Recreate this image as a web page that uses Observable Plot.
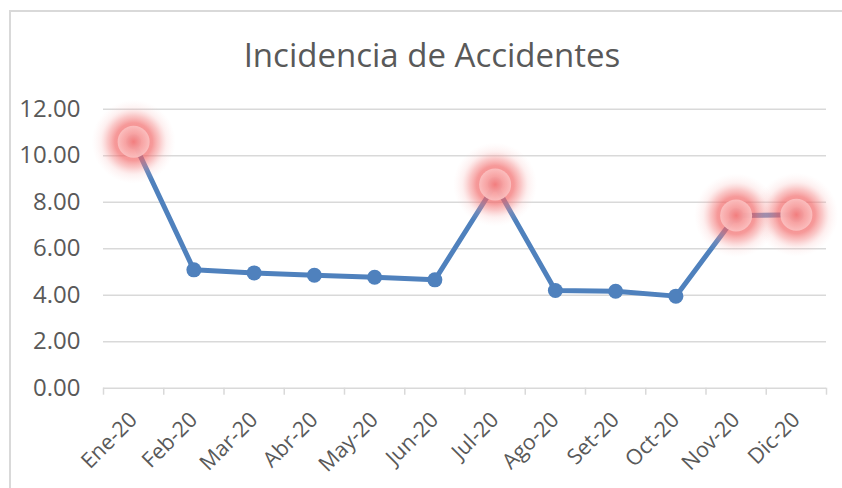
<!DOCTYPE html>
<html>
<head>
<meta charset="utf-8">
<script src="https://cdn.jsdelivr.net/npm/d3@7"></script>
<script src="https://cdn.jsdelivr.net/npm/@observablehq/plot@0.6"></script>
<style>
  html, body { margin: 0; padding: 0; background: #fff; width: 842px; height: 488px; overflow: hidden; }
  #frame { position: absolute; left: 9px; top: 10px; width: 850px; height: 500px; border: 2px solid #d9d9d9; box-sizing: border-box; }
  #title { position: absolute; left: 432px; top: 38px; transform: translateX(-50%); white-space: nowrap;
           font-family: "Open Sans", sans-serif; font-size: 33px; line-height: 1; color: #595959; }
  #chart { position: absolute; left: 0; top: 0; }
</style>
</head>
<body>
<div id="frame"></div>
<div id="title">Incidencia de Accidentes</div>
<div id="chart"></div>
<script>
const months = ["Ene-20","Feb-20","Mar-20","Abr-20","May-20","Jun-20","Jul-20","Ago-20","Set-20","Oct-20","Nov-20","Dic-20"];
const values = [10.60, 5.09, 4.96, 4.86, 4.77, 4.66, 8.76, 4.20, 4.17, 3.96, 7.43, 7.46];
const yTicks = [0, 2, 4, 6, 8, 10, 12];
const highlighted = ["Ene-20","Jul-20","Nov-20","Dic-20"];

const data = months.map((m, i) => ({month: m, value: values[i], idx: i}));
const hi = data.filter(d => highlighted.includes(d.month));
const xPos = d => d.idx + 0.5;

const svg = Plot.plot({
  width: 842,
  height: 488,
  marginLeft: 103,
  marginRight: 16,
  marginTop: 108.7,
  marginBottom: 100.3,
  style: {fontFamily: "'Open Sans', sans-serif", fontSize: "22px", background: "transparent", overflow: "visible"},
  x: {type: "linear", domain: [0, months.length], axis: null},
  y: {domain: [0, 12], axis: null},
  marks: [
    Plot.ruleY(yTicks, {stroke: "#d9d9d9", strokeWidth: 1.5}),
    Plot.axisY({ticks: yTicks, tickSize: 0, tickPadding: 23, tickFormat: d3.format(".2f"), label: null,
                fill: "#595959", fontSize: 24}),
    Plot.axisX({ticks: d3.range(months.length + 1), tickSize: 7, tickFormat: () => "", label: null,
                stroke: "#d9d9d9", strokeWidth: 1.5}),
    Plot.axisX({ticks: d3.range(months.length).map(i => i + 0.5), tickFormat: d => months[Math.floor(d)], label: null,
                tickSize: 0, tickPadding: 28, tickRotate: -45, fill: "#595959", fontSize: 21.5}),
    Plot.line(data, {x: xPos, y: "value", stroke: "#4f81bd", strokeWidth: 5}),
    Plot.dot(data, {x: xPos, y: "value", r: 7.5, fill: "#4f81bd", stroke: "none"}),
    Plot.dot(hi, {x: xPos, y: "value", r: 42, fill: "url(#glowOuter)", stroke: "none"}),
    Plot.dot(hi, {x: xPos, y: "value", r: 16, fill: "url(#glowInner)", stroke: "none"})
  ]
});

const defs = d3.select(svg).insert("defs", ":first-child");
const g1 = defs.append("radialGradient").attr("id", "glowOuter");
[[0, "#f05a5a", 0.8], [0.45, "#f26a6a", 0.68], [0.62, "#f48585", 0.45], [0.78, "#f7a8a8", 0.18], [1, "#fbd0d0", 0]].forEach(([o, c, op]) =>
  g1.append("stop").attr("offset", o).attr("stop-color", c).attr("stop-opacity", op));
const g2 = defs.append("radialGradient").attr("id", "glowInner");
[[0, "#f47f7f", 0.95], [0.45, "#f7a2a2", 0.92], [1, "#fbc0c0", 0.95]].forEach(([o, c, op]) =>
  g2.append("stop").attr("offset", o).attr("stop-color", c).attr("stop-opacity", op));

document.getElementById("chart").appendChild(svg);
</script>
</body>
</html>
